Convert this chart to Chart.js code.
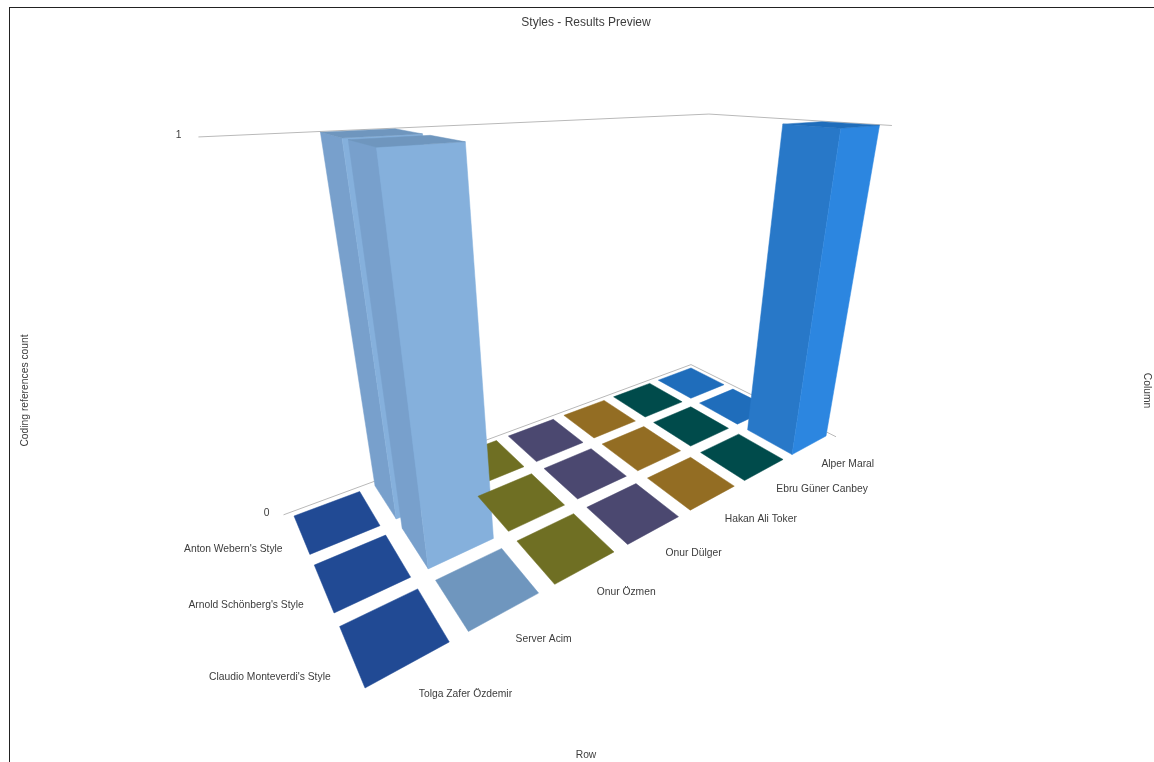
<!DOCTYPE html>
<html lang="en">

<head>
    <meta charset="UTF-8">
    <title>Styles - Results Preview</title>
    <script src="https://cdn.jsdelivr.net/npm/chart.js"></script>
    <style>
        body {
            margin: 0;
            background: #fff;
            overflow: hidden;
        }

        .frame {
            position: absolute;
            left: 9px;
            top: 7px;
            right: 0;
            bottom: 0;
            border-left: 1px solid #222;
            border-top: 1px solid #222;
        }

        canvas {
            position: absolute;
            left: 0;
            top: 0;
        }
    </style>
</head>

<body>
    <div class="frame"></div>
    <canvas id="chart" width="1154" height="762"></canvas>
    <script>
        const chartTitle = 'Styles - Results Preview';
        const rowLabels = ["Anton Webern's Style", "Arnold Schönberg's Style", "Claudio Monteverdi's Style"];
        const columnLabels = ['Tolga Zafer Özdemir', 'Server Acim', 'Onur Özmen', 'Onur Dülger', 'Hakan Ali Toker', 'Ebru Güner Canbey', 'Alper Maral'];
        const valueTicks = [0, 1];

        // coding references per column, one list per row
        const antonWebern = [0, 1, 0, 0, 0, 0, 0];
        const arnoldSchonberg = [0, 1, 0, 0, 0, 0, 0];
        const claudioMonteverdi = [0, 0, 0, 0, 0, 0, 1];
        const rowValues = [antonWebern, arnoldSchonberg, claudioMonteverdi];

        const tileColors = ['#214a94', '#6f96be', '#6f6f23', '#4b4870', '#936d23', '#004b4b', '#1f6dbb'];
        const sideColors = ['#2a56a4', '#78a0cc', '#7a7a2a', '#55527c', '#a07a2a', '#0a5a5a', '#2878c8'];
        const frontColors = ['#3262b2', '#85b0dc', '#85852f', '#605c88', '#ad8530', '#146868', '#2c86e0'];

        const tileGap = 0.1;
        const textColor = '#3c3c3c';
        const labelFont = '10.3px "Liberation Sans", Arial, sans-serif';

        // perspective camera, floor = rows x columns, z = count
        const camera = [
            [733.3, -31.7, -129, 294],
            [31.1, -21.6, -409, 516],
            [0.4867, -0.2814, -0.22, 1]
        ];
        const topTilt = 7; // the picture's top plane leans a little towards the right

        function project(u, v, z) {
            const a = (v - tileGap) / (columnLabels.length - 2 * tileGap);
            const b = (u - tileGap) / (rowLabels.length - 2 * tileGap);
            const [p, q, r] = camera.map(m => m[0] * a + m[1] * b + m[2] * z + m[3]);
            return { x: p / r, y: (q + topTilt * a * z) / r, w: r };
        }

        function polygon(corners, color) {
            const points = corners.map(c => project(c[0], c[1], c[2])).map(p => ({ x: p.x, y: p.y }));
            points.push(points[0]);
            return {
                data: points,
                showLine: true,
                fill: 'shape',
                tension: 0,
                backgroundColor: color,
                borderColor: color,
                borderWidth: 0.5,
                pointRadius: 0,
                clip: false
            };
        }

        function polyline(corners, color) {
            return {
                data: corners.map(c => project(c[0], c[1], c[2])).map(p => ({ x: p.x, y: p.y })),
                showLine: true,
                fill: false,
                tension: 0,
                borderColor: color,
                borderWidth: 1,
                pointRadius: 0,
                clip: false
            };
        }

        function buildDatasets() {
            const nr = rowLabels.length, nc = columnLabels.length;
            const sets = [];
            valueTicks.forEach(z => {
                sets.push(polyline([[0, 0, z], [0, nc, z], [nr, nc, z]], '#b9b9b9'));
            });
            rowValues.forEach((values, r) => {
                values.forEach((val, c) => {
                    const u0 = r + tileGap, u1 = r + 1 - tileGap;
                    const v0 = c + tileGap, v1 = c + 1 - tileGap;
                    if (val === 0) {
                        sets.push(polygon([[u0, v0, 0], [u0, v1, 0], [u1, v1, 0], [u1, v0, 0]], tileColors[c]));
                        return;
                    }
                    sets.push(polygon([[u0, v0, 0], [u1, v0, 0], [u1, v0, val], [u0, v0, val]], sideColors[c]));
                    sets.push(polygon([[u1, v0, 0], [u1, v1, 0], [u1, v1, val], [u1, v0, val]], frontColors[c]));
                    sets.push(polygon([[u0, v0, val], [u0, v1, val], [u1, v1, val], [u1, v0, val]], tileColors[c]));
                });
            });
            // line charts paint the first dataset last, so flip it
            sets.forEach((s, i) => { s.order = -i; });
            return sets;
        }

        // scales read in page pixels, the camera above does the projecting
        const pixelScales = {
            id: 'pixelScales',
            afterLayout(chart) {
                const area = chart.chartArea;
                const x = chart.scales.x, y = chart.scales.y;
                x.min = area.left;
                x.max = area.right;
                x.configure();
                y.min = area.top;
                y.max = area.bottom;
                y.configure();
            }
        };

        const axisLabels = {
            id: 'axisLabels',
            afterDatasetsDraw(chart) {
                const ctx = chart.ctx;
                const nr = rowLabels.length;
                ctx.save();
                ctx.font = labelFont;
                ctx.fillStyle = textColor;
                ctx.textBaseline = 'middle';
                ctx.textAlign = 'right';
                rowLabels.forEach((label, r) => {
                    const p = project(r + 0.5, 0, 0);
                    ctx.fillText(label, p.x - 10, p.y - 8 + 18 / p.w);
                });
                valueTicks.forEach(z => {
                    const p = project(0, 0, z);
                    ctx.fillText(String(z), p.x - 14 - 3 * z, p.y - 2);
                });
                ctx.textAlign = 'left';
                columnLabels.forEach((label, c) => {
                    const p = project(nr, c + 0.5, 0);
                    ctx.fillText(label, p.x + 6, p.y + 3.5 + 14 / p.w);
                });
                ctx.restore();
            }
        };

        const axisTitle = text => ({
            display: true,
            text: text,
            color: textColor,
            font: { family: '"Liberation Sans", Arial, sans-serif', size: 10.3 },
            padding: 1
        });
        const hiddenParts = {
            ticks: { display: false },
            grid: { display: false },
            border: { display: false }
        };

        new Chart(document.getElementById('chart'), {
            type: 'scatter',
            data: { datasets: buildDatasets() },
            plugins: [pixelScales, axisLabels],
            options: {
                responsive: false,
                animation: false,
                events: [],
                layout: { padding: { left: 18, right: 0, top: 15, bottom: 0 } },
                scales: {
                    x: { type: 'linear', title: axisTitle('Row'), ...hiddenParts },
                    y: { type: 'linear', reverse: true, title: axisTitle('Coding references count'), ...hiddenParts },
                    y2: { type: 'linear', position: 'right', title: axisTitle('Column'), ...hiddenParts }
                },
                plugins: {
                    legend: { display: false },
                    tooltip: { enabled: false },
                    title: {
                        display: true,
                        text: chartTitle,
                        color: textColor,
                        font: { family: '"Liberation Sans", Arial, sans-serif', size: 12, weight: 'normal' },
                        padding: { top: 0, bottom: 12 }
                    }
                }
            }
        });
    </script>
</body>

</html>
